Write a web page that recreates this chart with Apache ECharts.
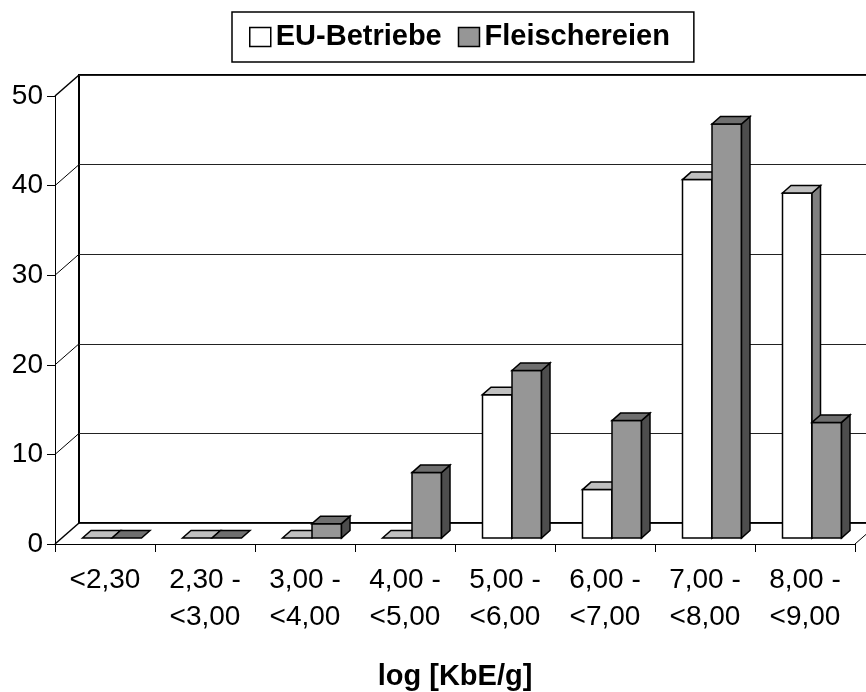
<!DOCTYPE html>
<html>
<head>
<meta charset="utf-8">
<script src="https://cdn.jsdelivr.net/npm/echarts@6/dist/echarts.min.js"></script>
<style>
html,body{margin:0;padding:0;background:#fff;}
#chart{width:866px;height:692px;}
</style>
</head>
<body>
<div id="chart"></div>
<script>
// ---- data ----
const categories = ['<2,30', '2,30 -\n<3,00', '3,00 -\n<4,00', '4,00 -\n<5,00', '5,00 -\n<6,00', '6,00 -\n<7,00', '7,00 -\n<8,00', '8,00 -\n<9,00'];
const euValues = [0, 0, 0, 0, 16.0, 5.4, 40.0, 38.5];
const fleischValues = [0, 0, 1.6, 7.3, 18.7, 13.1, 46.2, 12.9];
const yTicks = [0, 10, 20, 30, 40, 50];
const seriesNames = ['EU-Betriebe', 'Fleischereien'];
const xTitle = 'log [KbE/g]';

// ---- styling constants ----
const FONT = "'Liberation Sans', Arial, sans-serif";
const DEPTH_DX = 24, DEPTH_DY = -21;      // wall depth
const FRONT_DX = 7, FRONT_DY = -6;        // bar front offset
const BAR_DX = 8.5, BAR_DY = -7.5;        // bar depth
const BAR_FRAC = 0.295;

function barRenderer(side, frontColor, topColor, sideColor) {
  return function (params, api) {
    const i = api.value(0), v = api.value(1);
    const base = api.coord([i, 0]);
    const tp = api.coord([i, v]);
    const cw = api.size([1, 0])[0];
    const bw = cw * BAR_FRAC;
    const x0 = base[0] + (side < 0 ? -bw : 0) + FRONT_DX;
    const x1 = x0 + bw;
    const yb = base[1] + FRONT_DY;
    const yt = tp[1] + FRONT_DY;
    const st = {stroke: '#000', lineWidth: 1.5, lineJoin: 'miter'};
    const children = [];
    if (yb - yt > 0.5) {
      children.push({type: 'polygon', shape: {points: [[x0, yt], [x1, yt], [x1, yb], [x0, yb]]},
        style: Object.assign({fill: frontColor}, st)});
      children.push({type: 'polygon', shape: {points: [[x1, yt], [x1 + BAR_DX, yt + BAR_DY], [x1 + BAR_DX, yb + BAR_DY], [x1, yb]]},
        style: Object.assign({fill: sideColor}, st)});
    }
    children.push({type: 'polygon', shape: {points: [[x0, yt], [x0 + BAR_DX, yt + BAR_DY], [x1 + BAR_DX, yt + BAR_DY], [x1, yt]]},
      style: Object.assign({fill: topColor}, st)});
    return {type: 'group', children: children};
  };
}

function wallRenderer(params, api) {
  const v = api.value(0);
  const cs = params.coordSys;
  const p = api.coord([0, v]);
  const x = cs.x;
  const children = [{type: 'line', shape: {x1: x, y1: p[1], x2: x + DEPTH_DX, y2: p[1] + DEPTH_DY},
    style: {stroke: '#000', lineWidth: v === 0 || v === 50 ? 1.5 : 1}}];
  if (v === 0) {
    const xr = cs.x + cs.width;
    children.push({type: 'line', shape: {x1: xr, y1: p[1], x2: xr + DEPTH_DX, y2: p[1] + DEPTH_DY},
      style: {stroke: '#000', lineWidth: 1}});
  }
  return {type: 'group', children: children};
}

const chart = echarts.init(document.getElementById('chart'), null, {renderer: 'canvas'});
chart.setOption({
  backgroundColor: '#fff',
  animation: false,
  textStyle: {fontFamily: FONT},
  legend: {
    left: 232, top: 12,
    padding: [8, 24, 8, 17],
    borderColor: '#000', borderWidth: 1.5,
    itemGap: 16, itemWidth: 21, itemHeight: 19,
    textStyle: {fontFamily: FONT, fontWeight: 'bold', fontSize: 29, lineHeight: 34, color: '#000'},
    data: [
      {name: seriesNames[0], icon: 'rect', itemStyle: {color: '#fff', borderColor: '#000', borderWidth: 1.5}},
      {name: seriesNames[1], icon: 'rect', itemStyle: {color: '#969696', borderColor: '#000', borderWidth: 1.5}}
    ]
  },
  grid: [
    {left: 55, right: 11, top: 96, bottom: 148, outerBoundsMode: 'none', containLabel: false},
    {left: 79, right: -30, top: 75, bottom: 169, outerBoundsMode: 'none', containLabel: false,
     show: true, borderColor: '#000', borderWidth: 2, backgroundColor: 'transparent'}
  ],
  xAxis: [
    {
      gridIndex: 0, type: 'category', data: categories, boundaryGap: true,
      axisLine: {show: true, lineStyle: {color: '#000', width: 1}},
      axisTick: {show: true, length: 8, lineStyle: {color: '#000'}},
      axisLabel: {fontFamily: FONT, fontSize: 28, color: '#000', margin: 18, lineHeight: 37, interval: 0, align: 'center'},
      name: xTitle, nameLocation: 'middle', nameGap: 118, nameMoveOverlap: false,
      nameTextStyle: {fontFamily: FONT, fontWeight: 'bold', fontSize: 29, lineHeight: 30, color: '#000'}
    },
    {gridIndex: 1, type: 'category', data: categories, show: false}
  ],
  yAxis: [
    {
      gridIndex: 0, type: 'value', min: 0, max: 50, interval: 10,
      axisLine: {show: true, lineStyle: {color: '#000', width: 1}},
      axisTick: {show: true, length: 8, lineStyle: {color: '#000'}},
      axisLabel: {fontFamily: FONT, fontSize: 28, color: '#000', margin: 12},
      splitLine: {show: false}
    },
    {
      gridIndex: 1, type: 'value', min: 0, max: 50, interval: 10,
      axisLine: {show: false}, axisTick: {show: false}, axisLabel: {show: false},
      splitLine: {show: true, lineStyle: {color: '#222', width: 1}}
    }
  ],
  series: [
    {
      type: 'custom', name: 'walls', xAxisIndex: 0, yAxisIndex: 0, clip: false, silent: true,
      data: yTicks.map(v => [v]), renderItem: wallRenderer, z: 1
    },
    {
      type: 'custom', name: seriesNames[0], xAxisIndex: 0, yAxisIndex: 0, clip: false,
      itemStyle: {color: '#fff', borderColor: '#000'},
      data: euValues.map((v, i) => [i, v]),
      renderItem: barRenderer(-1, '#ffffff', '#c0c0c0', '#808080'), z: 3
    },
    {
      type: 'custom', name: seriesNames[1], xAxisIndex: 0, yAxisIndex: 0, clip: false,
      itemStyle: {color: '#969696', borderColor: '#000'},
      data: fleischValues.map((v, i) => [i, v]),
      renderItem: barRenderer(1, '#969696', '#6f6f6f', '#4d4d4d'), z: 3
    }
  ]
});
</script>
</body>
</html>
